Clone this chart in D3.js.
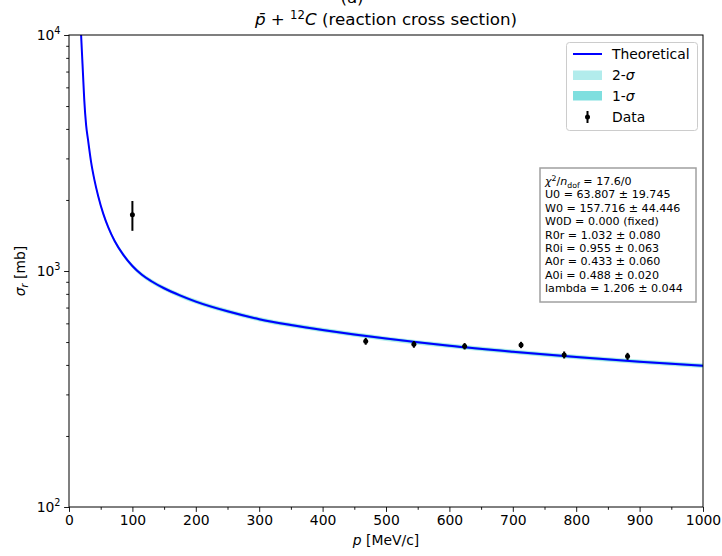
<!DOCTYPE html>
<html>
<head>
<meta charset="utf-8">
<script src="https://cdn.jsdelivr.net/npm/d3@7"></script>
<style>
  body { margin: 0; background: #fff; }
  svg { font-family: "DejaVu Sans", sans-serif; }
</style>
</head>
<body>
<div id="root"></div>
<script>
// theoretical curve
const theoP = [17, 18, 19, 20, 22, 24, 27, 30, 35, 40, 46, 54, 62, 72, 86, 100, 115, 130, 150, 175, 200, 250, 300, 350, 400, 450, 500, 600, 700, 800, 900, 1000];
const theoSigma = [13000, 11400, 10100, 8900, 6900, 5350, 4150, 3600, 2880, 2440, 2080, 1750, 1530, 1340, 1168, 1050, 964, 905, 845, 788, 742, 675, 625, 590, 562, 538, 517, 482, 455, 432, 413, 397];
// relative half widths of the bands
const band1 = [0.012, 0.012, 0.012, 0.012, 0.012, 0.012, 0.012, 0.012, 0.012, 0.012, 0.012, 0.012, 0.012, 0.012, 0.012, 0.012, 0.012, 0.012, 0.012, 0.012, 0.012, 0.012, 0.012, 0.012, 0.012, 0.012, 0.012, 0.012, 0.012, 0.012, 0.012, 0.012];
const band2 = [0.022, 0.022, 0.022, 0.022, 0.022, 0.022, 0.022, 0.022, 0.022, 0.022, 0.022, 0.022, 0.022, 0.022, 0.022, 0.022, 0.022, 0.022, 0.022, 0.022, 0.022, 0.022, 0.022, 0.022, 0.022, 0.022, 0.022, 0.022, 0.022, 0.022, 0.022, 0.022];

const dataP = [100, 468, 544, 624, 713, 781, 881];
const dataSigma = [1730, 504, 489, 480, 486, 441, 435];
const dataErr = [250, 17, 16, 15, 15, 15, 15];

const xTicks = [0, 100, 200, 300, 400, 500, 600, 700, 800, 900, 1000];
const yTicks = [100, 1000, 10000];
const yExp = ['2', '3', '4'];

const fitLines = [
  'U0 = 63.807 \u00b1 19.745',
  'W0 = 157.716 \u00b1 44.446',
  'W0D = 0.000 (fixed)',
  'R0r = 1.032 \u00b1 0.080',
  'R0i = 0.955 \u00b1 0.063',
  'A0r = 0.433 \u00b1 0.060',
  'A0i = 0.488 \u00b1 0.020',
  'lambda = 1.206 \u00b1 0.044'
];

const W = 722, H = 556;
const pLeft = 69, pTop = 35, pRight = 703, pBottom = 507;

const svg = d3.select('#root').append('svg')
  .attr('width', W)
  .attr('height', H);

const x = d3.scaleLinear().domain([0, 1000]).range([pLeft, pRight]);
const y = d3.scaleLog().domain([100, 10000]).range([pBottom, pTop]);

svg.append('defs').append('clipPath').attr('id', 'clip')
  .append('rect')
  .attr('x', pLeft).attr('y', pTop)
  .attr('width', pRight - pLeft).attr('height', pBottom - pTop);

const theo = theoP.map((p, i) => ({ p, s: theoSigma[i], b1: band1[i], b2: band2[i] }));

const plot = svg.append('g').attr('clip-path', 'url(#clip)');

const area = (k) => d3.area()
  .x(d => x(d.p))
  .y0(d => y(d.s * (1 - d[k])))
  .y1(d => y(d.s * (1 + d[k])))
  .curve(d3.curveMonotoneX);

plot.append('path').datum(theo)
  .attr('d', area('b2'))
  .attr('fill', '#00bfbf').attr('fill-opacity', 0.3);
plot.append('path').datum(theo)
  .attr('d', area('b1'))
  .attr('fill', '#00bfbf').attr('fill-opacity', 0.5);

plot.append('path').datum(theo)
  .attr('d', d3.line().x(d => x(d.p)).y(d => y(d.s)).curve(d3.curveMonotoneX))
  .attr('fill', 'none')
  .attr('stroke', '#0000ff')
  .attr('stroke-width', 2);

// data points
const pts = svg.append('g');
dataP.forEach((p, i) => {
  pts.append('line')
    .attr('x1', x(p)).attr('x2', x(p))
    .attr('y1', y(dataSigma[i] - dataErr[i]))
    .attr('y2', y(dataSigma[i] + dataErr[i]))
    .attr('stroke', '#000').attr('stroke-width', 2);
  pts.append('circle')
    .attr('cx', x(p)).attr('cy', y(dataSigma[i]))
    .attr('r', 2.5).attr('fill', '#000');
});

// axes
const xAxis = svg.append('g')
  .attr('transform', `translate(0,${pBottom})`)
  .call(d3.axisBottom(x).tickValues(xTicks).tickFormat(d3.format('d'))
    .tickSize(4.9).tickPadding(3.5).tickSizeOuter(0));
xAxis.select('.domain').remove();
xAxis.selectAll('text').attr('font-size', 13.9).attr('fill', '#000')
  .attr('font-family', '"DejaVu Sans", sans-serif');

const xMinor = d3.range(50, 1000, 100);
svg.append('g')
  .attr('transform', `translate(0,${pBottom})`)
  .call(d3.axisBottom(x).tickValues(xMinor).tickSize(2.8).tickFormat('').tickSizeOuter(0))
  .select('.domain').remove();

const yAxis = svg.append('g')
  .attr('transform', `translate(${pLeft},0)`)
  .call(d3.axisLeft(y).tickValues(yTicks).tickSize(4.9).tickPadding(3.5).tickFormat('').tickSizeOuter(0));
yAxis.select('.domain').remove();

const yMinor = [];
[100, 1000].forEach(dec => { for (let m = 2; m <= 9; m++) yMinor.push(dec * m); });
svg.append('g')
  .attr('transform', `translate(${pLeft},0)`)
  .call(d3.axisLeft(y).tickValues(yMinor).tickSize(2.8).tickFormat('').tickSizeOuter(0))
  .select('.domain').remove();

svg.selectAll('.tick line').attr('stroke', '#000').attr('stroke-width', 0.9);

yTicks.forEach((v, i) => {
  const t = svg.append('text')
    .attr('x', pLeft - 8.5).attr('y', y(v) + 5)
    .attr('text-anchor', 'end')
    .attr('font-size', 13.9);
  t.append('tspan').text('10');
  t.append('tspan').attr('font-size', 9.7).attr('dy', -6).text(yExp[i]);
});

// frame
svg.append('rect')
  .attr('x', pLeft).attr('y', pTop)
  .attr('width', pRight - pLeft).attr('height', pBottom - pTop)
  .attr('fill', 'none').attr('stroke', '#000').attr('stroke-width', 1);

// title (first line is mostly above the page in the original)
svg.append('text')
  .attr('x', 352).attr('y', 2.5)
  .attr('text-anchor', 'middle').attr('font-size', 16.7)
  .text('(a)');

const title = svg.append('text')
  .attr('x', (pLeft + pRight) / 2).attr('y', 25)
  .attr('text-anchor', 'middle').attr('font-size', 16.7);
title.append('tspan').attr('font-style', 'italic').text('p\u0304');
title.append('tspan').text(' + ');
title.append('tspan').attr('font-size', 11.7).attr('dy', -6.5).text('12');
title.append('tspan').attr('font-style', 'italic').attr('dy', 6.5).text('C');
title.append('tspan').text(' (reaction cross section)');

// axis labels
const xl = svg.append('text')
  .attr('x', (pLeft + pRight) / 2).attr('y', 545)
  .attr('text-anchor', 'middle').attr('font-size', 13.9);
xl.append('tspan').attr('font-style', 'italic').text('p');
xl.append('tspan').text(' [MeV/c]');

const yl = svg.append('text')
  .attr('transform', `translate(25,${(pTop + pBottom) / 2}) rotate(-90)`)
  .attr('text-anchor', 'middle').attr('font-size', 13.9);
yl.append('tspan').attr('font-style', 'italic').text('\u03c3');
yl.append('tspan').attr('font-style', 'italic').attr('font-size', 9.7).attr('dy', 3).text('r');
yl.append('tspan').attr('dy', -3).text(' [mb]');

// legend
const lg = svg.append('g');
lg.append('rect')
  .attr('x', 566.5).attr('y', 42.5).attr('width', 131).attr('height', 88)
  .attr('rx', 3)
  .attr('fill', '#fff').attr('fill-opacity', 0.8)
  .attr('stroke', '#cccccc').attr('stroke-width', 1);
const lx = 573, lt = 612;
lg.append('line').attr('x1', lx).attr('x2', lx + 29).attr('y1', 54).attr('y2', 54)
  .attr('stroke', '#0000ff').attr('stroke-width', 2);
lg.append('rect').attr('x', lx).attr('y', 70.5).attr('width', 29).attr('height', 9.5)
  .attr('fill', '#00bfbf').attr('fill-opacity', 0.3);
lg.append('rect').attr('x', lx).attr('y', 91).attr('width', 29).attr('height', 9.5)
  .attr('fill', '#00bfbf').attr('fill-opacity', 0.5);
lg.append('line').attr('x1', lx + 14.5).attr('x2', lx + 14.5).attr('y1', 111).attr('y2', 123)
  .attr('stroke', '#000').attr('stroke-width', 2);
lg.append('circle').attr('cx', lx + 14.5).attr('cy', 117).attr('r', 2.5).attr('fill', '#000');

const legendText = (yy, parts) => {
  const t = lg.append('text').attr('x', lt).attr('y', yy).attr('font-size', 13.9);
  parts.forEach(([s, it]) => {
    const sp = t.append('tspan').text(s);
    if (it) sp.attr('font-style', 'italic');
  });
};
legendText(59, [['Theoretical', false]]);
legendText(80, [['2-', false], ['\u03c3', true]]);
legendText(101, [['1-', false], ['\u03c3', true]]);
legendText(122, [['Data', false]]);

// fit result box
const fb = svg.append('g');
fb.append('rect')
  .attr('x', 540).attr('y', 168).attr('width', 156).attr('height', 134)
  .attr('fill', '#fff').attr('stroke', '#a0a0a0').attr('stroke-width', 1.5);
const fx = 545, fy0 = 185, dy = 13.4;
const chi = fb.append('text').attr('x', fx).attr('y', fy0).attr('font-size', 11.1);
chi.append('tspan').attr('font-style', 'italic').text('\u03c7');
chi.append('tspan').attr('font-size', 7.8).attr('dy', -4.5).text('2');
chi.append('tspan').attr('dy', 4.5).text('/');
chi.append('tspan').attr('font-style', 'italic').text('n');
chi.append('tspan').attr('font-size', 7.8).attr('dy', 2.5).text('dof');
chi.append('tspan').attr('dy', -2.5).text(' = 17.6/0');
fitLines.forEach((s, i) => {
  fb.append('text').attr('x', fx).attr('y', fy0 + dy * (i + 1))
    .attr('font-size', 11.1).text(s);
});
</script>
</body>
</html>
